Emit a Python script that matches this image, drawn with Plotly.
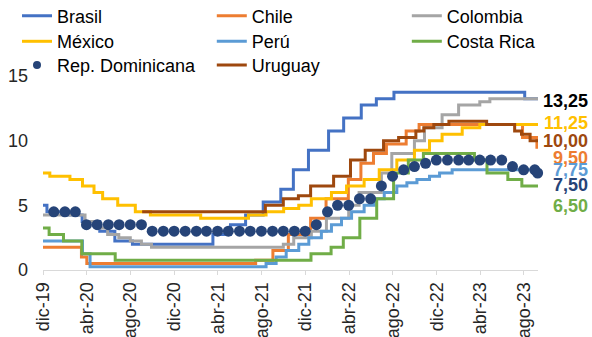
import pandas as pd
import plotly.graph_objects as go

# Tasas de política monetaria (%), fechas de cambio de tasa
fin = "2023-09-09"

brasil_fechas = ["2019-12-01", "2019-12-12", "2020-02-06", "2020-03-19", "2020-05-07", "2020-06-18",
                 "2020-08-06", "2021-03-18", "2021-05-06", "2021-06-17", "2021-08-05", "2021-09-23",
                 "2021-10-28", "2021-12-09", "2022-02-03", "2022-03-17", "2022-05-05", "2022-06-16",
                 "2022-08-04", "2023-08-03"]
brasil_tasas = [5.00, 4.50, 4.25, 3.75, 3.00, 2.25, 2.00, 2.75, 3.50, 4.25, 5.25, 6.25,
                7.75, 9.25, 10.75, 11.75, 12.75, 13.25, 13.75, 13.25]

chile_fechas = ["2019-12-01", "2020-03-17", "2020-04-01", "2021-07-15", "2021-09-01", "2021-10-14",
                "2021-12-15", "2022-01-27", "2022-03-30", "2022-05-04", "2022-06-08", "2022-07-14",
                "2022-09-07", "2022-10-13", "2023-07-28", "2023-09-06"]
chile_tasas = [1.75, 1.00, 0.50, 0.75, 1.50, 2.75, 4.00, 5.50, 7.00, 8.25, 9.00, 9.75,
               10.75, 11.25, 10.25, 9.50]

colombia_fechas = ["2019-12-01", "2020-03-27", "2020-04-30", "2020-05-29", "2020-06-29", "2020-07-31",
                   "2020-08-31", "2020-09-28", "2021-09-30", "2021-10-29", "2021-12-17", "2022-01-28",
                   "2022-03-31", "2022-04-29", "2022-06-30", "2022-07-29", "2022-09-30", "2022-10-28",
                   "2022-12-16", "2023-01-31", "2023-03-31", "2023-04-28"]
colombia_tasas = [4.25, 3.75, 3.25, 2.75, 2.50, 2.25, 2.00, 1.75, 2.00, 2.50, 3.00, 4.00,
                  5.00, 6.00, 7.50, 9.00, 10.00, 11.00, 12.00, 12.75, 13.00, 13.25]

mexico_fechas = ["2019-12-01", "2019-12-20", "2020-02-14", "2020-03-20", "2020-04-21", "2020-05-15",
                 "2020-06-26", "2020-08-14", "2020-09-25", "2021-02-12", "2021-06-25", "2021-08-13",
                 "2021-10-01", "2021-11-12", "2021-12-17", "2022-02-11", "2022-03-25", "2022-05-13",
                 "2022-06-24", "2022-08-12", "2022-09-30", "2022-11-11", "2022-12-16", "2023-02-10",
                 "2023-03-31"]
mexico_tasas = [7.50, 7.25, 7.00, 6.50, 6.00, 5.50, 5.00, 4.50, 4.25, 4.00, 4.25, 4.50,
                4.75, 5.00, 5.50, 6.00, 6.50, 7.00, 7.75, 8.50, 9.25, 10.00, 10.50, 11.00, 11.25]

peru_fechas = ["2019-12-01", "2020-03-20", "2020-04-10", "2021-08-13", "2021-09-10", "2021-10-08",
               "2021-11-12", "2021-12-10", "2022-01-14", "2022-02-11", "2022-03-11", "2022-04-08",
               "2022-05-13", "2022-06-10", "2022-07-08", "2022-08-12", "2022-09-09", "2022-10-07",
               "2022-11-11", "2022-12-09", "2023-01-13"]
peru_tasas = [2.25, 1.25, 0.25, 0.50, 1.00, 1.50, 2.00, 2.50, 3.00, 3.50, 4.00, 4.50,
              5.00, 5.50, 6.00, 6.50, 6.75, 7.00, 7.25, 7.50, 7.75]

costa_rica_fechas = ["2019-12-01", "2019-12-18", "2020-01-27", "2020-03-18", "2020-06-19", "2021-12-16",
                     "2022-02-10", "2022-03-16", "2022-05-01", "2022-06-17", "2022-08-03", "2022-09-13",
                     "2022-10-25", "2023-03-16", "2023-04-20", "2023-06-17", "2023-07-26"]
costa_rica_tasas = [3.25, 2.75, 2.25, 1.25, 0.75, 1.25, 1.75, 2.50, 4.00, 5.50, 7.50, 8.50,
                    9.00, 8.50, 7.50, 7.00, 6.50]

uruguay_fechas = ["2020-09-02", "2021-08-11", "2021-09-30", "2021-11-11", "2021-12-15", "2022-02-17",
                  "2022-04-05", "2022-05-16", "2022-07-06", "2022-08-17", "2022-10-04", "2022-10-26",
                  "2022-11-23", "2023-01-04", "2023-04-19", "2023-07-06", "2023-07-25", "2023-08-18"]
uruguay_tasas = [4.50, 5.00, 5.50, 5.75, 6.50, 7.25, 8.50, 9.25, 10.00, 10.25, 10.75, 11.00,
                 11.25, 11.50, 11.25, 10.75, 10.50, 10.00]

# Rep. Dominicana: tasa a fin de cada mes (dic-19 a ago-23) y último dato
rd_tasas_mensuales = [4.50, 4.50, 4.50, 3.50, 3.50, 3.50, 3.50, 3.50, 3.50,
                      3.00, 3.00, 3.00, 3.00, 3.00, 3.00, 3.00, 3.00, 3.00, 3.00, 3.00, 3.00, 3.00, 3.00, 3.00,
                      3.50, 4.50, 5.00, 5.00, 5.50, 5.50, 6.50, 7.25, 7.75, 8.00, 8.25,
                      8.50, 8.50, 8.50, 8.50, 8.50, 8.50, 8.50, 8.00, 7.75, 7.75]
rd_ultima_fecha = "2023-09-08"
rd_ultima_tasa = 7.50

ticks_fechas = ["2019-12-01", "2020-04-01", "2020-08-01", "2020-12-01", "2021-04-01", "2021-08-01",
                "2021-12-01", "2022-04-01", "2022-08-01", "2022-12-01", "2023-04-01", "2023-08-01"]
ticks_texto = ["dic-19", "abr-20", "ago-20", "dic-20", "abr-21", "ago-21",
               "dic-21", "abr-22", "ago-22", "dic-22", "abr-23", "ago-23"]

rd_fechas = list(pd.date_range("2019-12-31", periods=len(rd_tasas_mensuales), freq="ME").strftime("%Y-%m-%d"))
rd_fechas.append(rd_ultima_fecha)
rd_tasas = rd_tasas_mensuales + [rd_ultima_tasa]

FONT = "Liberation Sans, Arial, sans-serif"
colores = {
    "Brasil": "#4472C4", "Chile": "#ED7D31", "Colombia": "#A5A5A5", "México": "#FFC000",
    "Perú": "#5B9BD5", "Costa Rica": "#70AD47", "Rep. Dominicana": "#264478", "Uruguay": "#9E480E",
}

series = {
    "Brasil": (brasil_fechas, brasil_tasas),
    "Chile": (chile_fechas, chile_tasas),
    "Colombia": (colombia_fechas, colombia_tasas),
    "México": (mexico_fechas, mexico_tasas),
    "Perú": (peru_fechas, peru_tasas),
    "Costa Rica": (costa_rica_fechas, costa_rica_tasas),
    "Uruguay": (uruguay_fechas, uruguay_tasas),
}

# Leyenda en tres columnas: cada entrada en su propia caja (columna, fila)
orden = ["Brasil", "Chile", "Colombia", "México", "Perú", "Costa Rica", "Rep. Dominicana", "Uruguay"]
col_x = [-0.0525, 0.341, 0.735]
fila_y = [1.405, 1.2727, 1.151]

fig = go.Figure()
leyendas = {}
for i, nombre in enumerate(orden):
    leg_id = "legend" if i == 0 else f"legend{i + 1}"
    leyendas[leg_id] = (col_x[i % 3], fila_y[i // 3])
    if nombre == "Rep. Dominicana":
        fig.add_trace(go.Scatter(
            x=rd_fechas, y=rd_tasas, name=nombre, mode="markers", showlegend=False,
            marker=dict(color=colores[nombre], size=11), cliponaxis=False,
        ))
        # entrada de leyenda con un punto más pequeño
        fig.add_trace(go.Scatter(
            x=[None], y=[None], name=nombre, mode="markers", legend=leg_id,
            marker=dict(color=colores[nombre], size=8),
        ))
        continue
    fechas, tasas = series[nombre]
    fig.add_trace(go.Scatter(
        x=fechas + [fin], y=tasas + [tasas[-1]], name=nombre, mode="lines", legend=leg_id,
        line=dict(color=colores[nombre], width=3, shape="hv"),
    ))

# Etiquetas con el último valor de cada país
def fmt(v):
    return f"{v:.2f}".replace(".", ",")

etiquetas = [
    (brasil_tasas[-1], "#000000", 13.09),
    (mexico_tasas[-1], colores["México"], 11.35),
    (uruguay_tasas[-1], colores["Uruguay"], 9.98),
    (chile_tasas[-1], colores["Chile"], 8.69),
    (peru_tasas[-1], colores["Perú"], 7.73),
    (rd_ultima_tasa, colores["Rep. Dominicana"], 6.57),
    (costa_rica_tasas[-1], colores["Costa Rica"], 4.95),
]
for valor, color, pos in etiquetas:
    fig.add_annotation(
        x=1.105, xref="paper", xanchor="right", y=pos, yref="y", yanchor="middle",
        text=f"<b>{fmt(valor)}</b>", showarrow=False,
        font=dict(family=FONT, size=18, color=color),
    )

leg_common = dict(orientation="v", yanchor="top", xanchor="left", bgcolor="rgba(0,0,0,0)",
                  font=dict(family=FONT, size=18, color="#000000"))
legend_layout = {k: dict(x=x, y=y, **leg_common) for k, (x, y) in leyendas.items()}

fig.update_layout(
    width=592, height=337,
    margin=dict(l=43, r=54, t=76, b=67, autoexpand=False),
    paper_bgcolor="white", plot_bgcolor="white",
    font=dict(family=FONT, size=18, color="#262626"),
    showlegend=True,
    xaxis=dict(
        type="date", range=["2019-12-01", fin],
        tickvals=ticks_fechas, ticktext=ticks_texto, tickangle=-90,
        ticks="outside", ticklen=4, tickcolor="#D9D9D9",
        showline=True, linecolor="#D9D9D9", linewidth=1,
        showgrid=False, zeroline=False,
        tickfont=dict(family=FONT, size=18, color="#262626"),
    ),
    yaxis=dict(
        range=[0, 15], tickvals=[0, 5, 10, 15],
        showgrid=False, showline=False, zeroline=False,
        ticklabelstandoff=14,
        tickfont=dict(family=FONT, size=18, color="#262626"),
    ),
    **legend_layout,
)

fig.write_html("out.html")
